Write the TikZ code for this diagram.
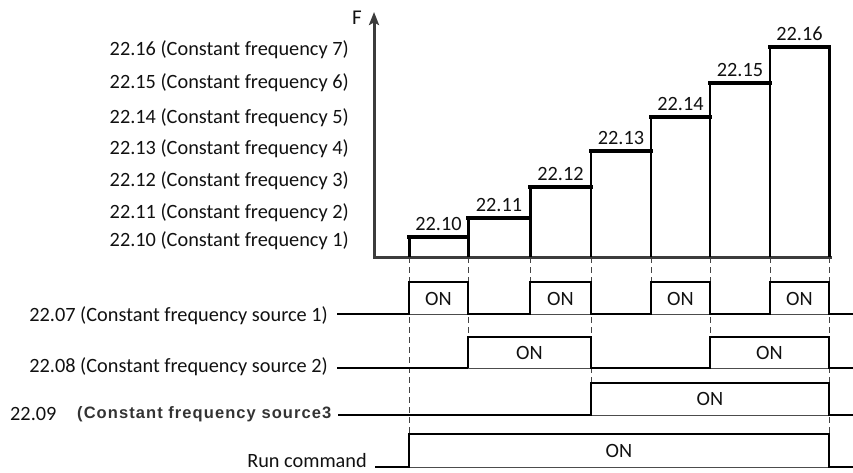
\documentclass[tikz,border=0pt]{standalone}
\usepackage{fontspec}
\setmainfont{Carlito}
\newfontfamily\srcfont[LetterSpace=6.5]{Liberation Sans}
\usetikzlibrary{arrows.meta}
\definecolor{ink}{HTML}{111111}
\definecolor{axisc}{HTML}{3C3C3C}
\definecolor{dashc}{HTML}{444444}
\begin{document}
\begin{tikzpicture}[x=1pt,y=-1pt,
  lbl/.style={inner sep=0pt, text=ink, font=\fontsize{20.3}{23}\selectfont},
  axisline/.style={draw=axisc, line width=3pt},
  steptop/.style={draw=black, line width=3.2pt, line cap=rect},
  stepthick/.style={draw=black, line width=3pt},
  stepthin/.style={draw=black, line width=1.6pt},
  guide/.style={draw=dashc, line width=0.9pt, dash pattern=on 6pt off 4pt},
  wave/.style={draw=black, line width=2.6pt, line join=miter},
  wavethin/.style={draw=black!70, line width=0.9pt},
  wavemid/.style={draw=black, line width=1.6pt}]
\useasboundingbox (0,0) rectangle (853,473);

% boundaries
\foreach \n/\x in {0/409,1/468,2/530,3/591,4/651,5/710,6/770,7/829}
  \coordinate (b\n) at (\x,257);

% guides (dashed)
\foreach \n/\y in {0/434,1/337,2/282,3/383,4/282,5/337,6/282,7/434}
  \draw[guide] (b\n) -- (b\n |- 0,\y);

% axes
\coordinate (origin) at (374,257);
\coordinate (ftop) at (374,12);
\coordinate (xend) at (832,257);
\draw[axisline, {Stealth[length=13pt,width=10pt,inset=2.5pt]}-] (ftop) -- (origin) -- (xend);
\node[lbl, font=\fontsize{21}{24}\selectfont] (F) at (357,18) {F};

% staircase
\foreach \n/\xa/\xb/\t/\lab in {0/409/468/237/22.10, 1/468/530/218/22.11, 2/530/591/187/22.12,
  3/591/651/151/22.13, 4/651/710/117/22.14, 5/710/770/83/22.15, 6/770/829/47/22.16} {
  \draw[steptop] (\xa,\t) -- (\xb,\t);
  \node[lbl] (s\n) at ({(\xa+\xb)/2},{\t-13.5}) {\lab};
}
\draw[stepthick] (b0) -- (409,237);
\draw[stepthick] (b1) -- (468,218);
\draw[stepthick] (b2) -- (530,187);
\draw[stepthin] (b3) -- (591,151);
\draw[stepthin] (b4) -- (651,117);
\draw[stepthin] (b5) -- (710,83);
\draw[stepthin] (b6) -- (770,47);
\draw[stepthick] (b7) -- (829,47);

% frequency labels
\foreach \n/\y/\txt in {16/50/7, 15/83/6, 14/118/5, 13/149/4, 12/181/3, 11/213/2, 10/241/1}
  \node[lbl, anchor=east] (f\n) at (349,\y) {22.\n\ (Constant frequency \txt)};

% source 1
\node[lbl, anchor=east] (L7) at (328,316) {22.07 (Constant frequency source 1)};
\draw[wavethin] (409,314) -- (829,314);
\draw[wave] (L7.east) ++(9,-2) -- (409,314) -- (409,282) -- (468,282) -- (468,314) -- (530,314)
  -- (530,282) -- (591,282) -- (591,314) -- (651,314) -- (651,282) -- (710,282) -- (710,314)
  -- (770,314) -- (770,282) -- (829,282) -- (829,314) -- (853,314);
\foreach \n/\x in {1/438.5,2/560.5,3/680.5,4/799.5}
  \node[lbl] (on1\n) at (\x,299) {ON};

% source 2
\node[lbl, anchor=east] (L8) at (328,367) {22.08 (Constant frequency source 2)};
\draw[wavemid] (L8.east) ++(9,1) -- (468,368);
\draw[wavethin] (468,368) -- (829,368);
\draw[wave] (468,368) -- (468,337) -- (591,337) -- (591,368) -- (710,368) -- (710,337)
  -- (829,337) -- (829,368) -- (853,368);
\foreach \n/\x in {1/529.5,2/769.5}
  \node[lbl] (on2\n) at (\x,352.5) {ON};

% source 3
\node[lbl, anchor=west] (L9a) at (10,414) {22.09};
\node[inner sep=0pt, anchor=west, text=black!80, font=\srcfont\bfseries\fontsize{16.5}{19}\selectfont] (L9) at (77,414) {(Constant frequency source3};
\draw[wavethin] (591,415) -- (829,415);
\draw[wave] (338,415) -- (591,415) -- (591,383) -- (829,383) -- (829,415) -- (853,415);
\node[lbl] (on3) at (710,399) {ON};

% run command
\node[lbl, anchor=east] (LR) at (367,461) {Run command};
\draw[wavethin] (409,467) -- (829,467);
\draw[wave] (375,467) -- (409,467) -- (409,434) -- (829,434) -- (829,467) -- (853,467);
\node[lbl] (on4) at (619,450.5) {ON};
\end{tikzpicture}
\end{document}
